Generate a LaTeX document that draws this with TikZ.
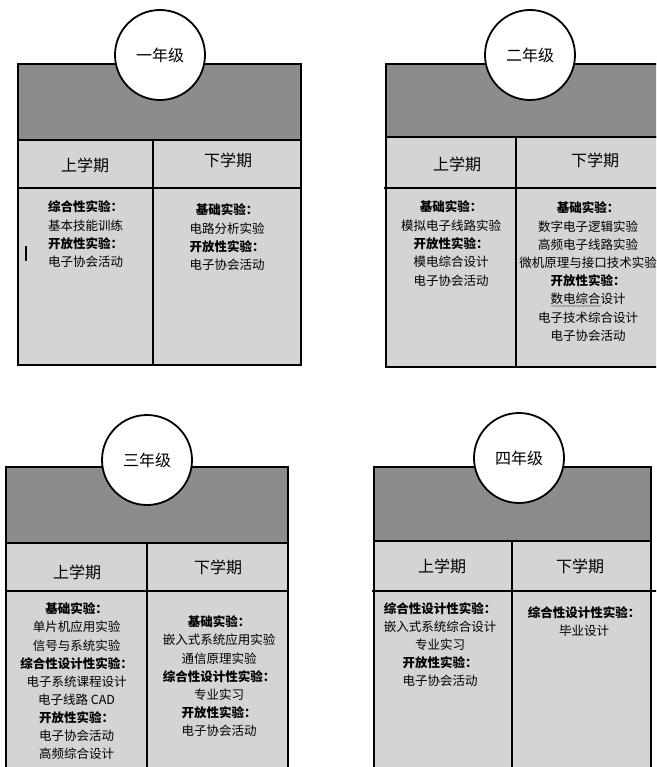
\documentclass[tikz,border=0pt]{standalone}
\usepackage{fontspec}
\newfontfamily\cjk{Noto Sans CJK SC}
\usetikzlibrary{decorations.pathmorphing}
\definecolor{bandgray}{RGB}{140,140,140}
\definecolor{cellgray}{RGB}{212,212,212}
\tikzset{
  band/.style={fill=bandgray, draw=black, line width=2.2pt},
  cell/.style={fill=cellgray, draw=black, line width=2.2pt},
  rule/.style={draw=black, line width=2.2pt},
  yearc/.style={circle, draw=black, line width=1.8pt, fill=white, minimum size=90pt, inner sep=0pt, font=\cjk\fontsize{16}{16}\selectfont},
  sem/.style={inner sep=0pt, font=\cjk\fontsize{16}{16}\selectfont},
  body/.style={align=center, inner sep=0pt, anchor=north, font=\cjk\fontsize{12.5}{18.3}\selectfont},
}
\begin{document}
\begin{tikzpicture}[x=1pt,y=-1pt]
\useasboundingbox (0,0) rectangle (656,767);
\clip (0,0) rectangle (656,767);
\fill[white] (0,0) rectangle (656,767);

% ---------- Panel 1 ----------
\filldraw[cell] (18,140) rectangle (301,365);
\filldraw[band] (18,64) rectangle (301,140);
\draw[rule] (18,188) -- (301,188);
\draw[rule] (153,140) -- (153,365);
\node[yearc] (y1) at (160,55) {一年级};
\node[sem] (s1a) at (85,165) {上学期};
\node[sem] (s1b) at (228,160) {下学期};
\node[body] (t1a) at (85.5,200.8) {\textbf{综合性实验：}\\基本技能训练\\\textbf{开放性实验：}\\电子协会活动};
\node[body] (t1b) at (227,203.8) {\textbf{基础实验：}\\电路分析实验\\\textbf{开放性实验：}\\电子协会活动};
\draw[line width=1.2pt] (26,246) -- (26,261);

% ---------- Panel 2 ----------
\filldraw[cell] (386,137) rectangle (662,367);
\filldraw[band] (386,64) rectangle (662,137);
\draw[rule] (384,188) -- (662,188);
\draw[rule] (516,137) -- (516,367);
\node[yearc] (y2) at (530,55) {二年级};
\node[sem] (s2a) at (457,164) {上学期};
\node[sem] (s2b) at (595,160) {下学期};
\node[body] (t2a) at (451,200.8) {\textbf{基础实验：}\\模拟电子线路实验\\\textbf{开放性实验：}\\模电综合设计\\电子协会活动};
\node[body, font=\cjk\fontsize{12.5}{18.2}\selectfont] (t2b) at (588,201.8) {\textbf{基础实验：}\\数字电子逻辑实验\\高频电子线路实验\\微机原理与接口技术实验\\\textbf{开放性实验：}\\数电综合设计\\电子技术综合设计\\电子协会活动};
\draw[gray, line width=0.5pt, decorate, decoration={snake, amplitude=0.8pt, segment length=3pt}] (551,306) -- (601,306);

% ---------- Panel 3 ----------
\filldraw[cell] (6,543) rectangle (288,775);
\filldraw[band] (6,467) rectangle (288,543);
\draw[rule] (6,591) -- (288,591);
\draw[rule] (147,543) -- (147,775);
\node[yearc] (y3) at (147,460) {三年级};
\node[sem] (s3a) at (77,572) {上学期};
\node[sem] (s3b) at (218,567) {下学期};
\node[body, font=\cjk\fontsize{12.5}{18.1}\selectfont] (t3a) at (76.5,602.8) {\textbf{基础实验：}\\单片机应用实验\\信号与系统实验\\\textbf{综合性设计性实验：}\\电子系统课程设计\\电子线路 CAD\\\textbf{开放性实验：}\\电子协会活动\\高频综合设计};
\node[body, font=\cjk\fontsize{12.5}{18.1}\selectfont] (t3b) at (219,615.8) {\textbf{基础实验：}\\嵌入式系统应用实验\\通信原理实验\\\textbf{综合性设计性实验：}\\专业实习\\\textbf{开放性实验：}\\电子协会活动};

% ---------- Panel 4 ----------
\filldraw[cell] (374,541) rectangle (651,775);
\filldraw[band] (374,467) rectangle (651,541);
\draw[rule] (372,591) -- (660,591);
\draw[rule] (512,541) -- (512,775);
\node[yearc] (y4) at (519,458) {四年级};
\node[sem] (s4a) at (442,566) {上学期};
\node[sem] (s4b) at (580,566) {下学期};
\node[body, font=\cjk\fontsize{12.5}{18}\selectfont] (t4a) at (440,602.8) {\textbf{综合性设计性实验：}\\嵌入式系统综合设计\\专业实习\\\textbf{开放性实验：}\\电子协会活动};
\node[body, font=\cjk\fontsize{12.5}{18}\selectfont] (t4b) at (584,606.8) {\textbf{综合性设计性实验：}\\毕业设计};
\end{tikzpicture}
\end{document}
